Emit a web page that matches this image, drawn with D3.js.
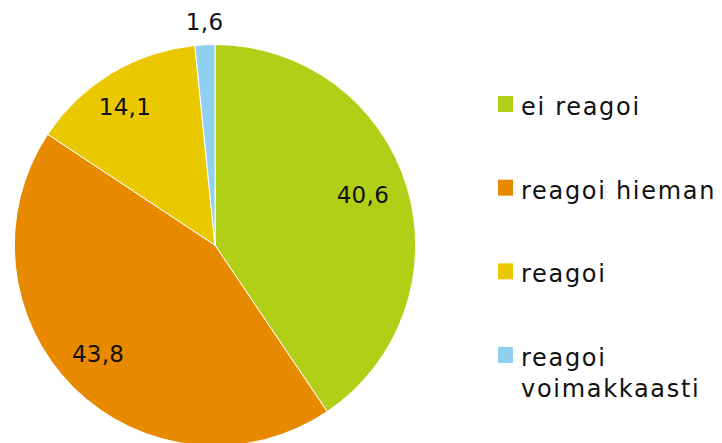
<!DOCTYPE html>
<html><head><meta charset="utf-8">
<script src="https://cdn.jsdelivr.net/npm/d3@7"></script>
<style>html,body{margin:0;padding:0;background:#fff;}svg{display:block;}</style>
</head><body>
<svg id="chart" width="722" height="443"></svg>
<script>
const categories = ["ei reagoi", "reagoi hieman", "reagoi", "reagoi voimakkaasti"];
const values = [40.6, 43.8, 14.1, 1.6];
const valueLabels = ["40,6", "43,8", "14,1", "1,6"];
const colors = ["#B2CF18", "#E88A00", "#EAC800", "#90D0F0"];

const svg = d3.select("#chart");
const font = "'DejaVu Sans', sans-serif";
const fs = 23;
const cx = 215, cy = 245.2, r = 200.7;

const pie = d3.pie().sort(null).value(d => d)(values);
const arc = d3.arc().innerRadius(0).outerRadius(r);
const g = svg.append("g").attr("transform", `translate(${cx},${cy})`);
g.selectAll("path").data(pie).join("path")
  .attr("d", arc)
  .attr("fill", (d, i) => colors[i])
  .attr("stroke", "#fff").attr("stroke-width", 1);

// label placement (layout constants): radius and small angular nudge in degrees
const labelR = [156.4, 159.4, 164.9, 223.4];
const labelNudge = [-2.0, 2.4, -2.0, 0.2];
g.selectAll("text.lbl").data(pie).join("text")
  .attr("class", "lbl")
  .attr("transform", (d, i) => {
    const a = (d.startAngle + d.endAngle) / 2 + labelNudge[i] * Math.PI / 180;
    const x = labelR[i] * Math.sin(a), y = -labelR[i] * Math.cos(a);
    return `translate(${x},${y})`;
  })
  .attr("text-anchor", "middle").attr("dy", "0.36em")
  .attr("font-family", font).attr("font-size", fs).attr("fill", "#111")
  .attr("letter-spacing", 0.3)
  .text((d, i) => valueLabels[i]);

const legY = d3.scalePoint().domain(categories).range([104, 355]);
const leg = svg.append("g");
categories.forEach((c, i) => {
  const y = legY(c);
  leg.append("rect").attr("x", 498).attr("y", y - 8).attr("width", 15).attr("height", 16).attr("fill", colors[i]);
  const words = i === 3 ? ["reagoi", "voimakkaasti"] : [c];
  const t = leg.append("text").attr("x", 521).attr("y", y + 11)
    .attr("font-family", font).attr("font-size", 24).attr("fill", "#111")
    .attr("letter-spacing", 1.7);
  words.forEach((w, j) => t.append("tspan").attr("x", 521).attr("dy", j === 0 ? 0 : 31).text(w));
});
</script>
</body></html>
